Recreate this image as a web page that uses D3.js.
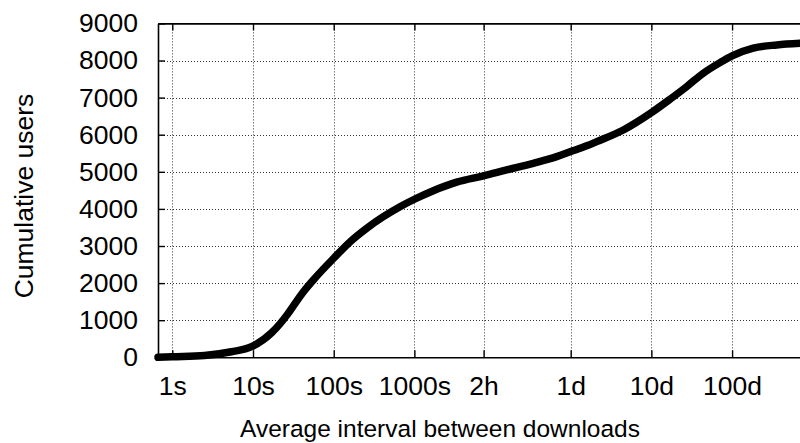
<!DOCTYPE html>
<html>
<head>
<meta charset="utf-8">
<script src="https://cdn.jsdelivr.net/npm/d3@7"></script>
<style>
  html, body { margin: 0; padding: 0; background: #fff; }
  svg { display: block; }
  text { font-family: "Liberation Sans", Arial, Helvetica, sans-serif; fill: #000; }
</style>
</head>
<body>
<svg id="chart" width="800" height="443"></svg>
<script>
// Average interval between downloads (seconds) and cumulative number of users
const intervalSeconds = [0.665, 1, 2.5, 5.4, 9.6, 17, 27, 32, 40, 56, 100, 159, 257, 412, 663,
  1000, 1715, 3342, 7200, 13900, 29750, 58000, 86400, 136500, 181600, 388000, 864000,
  1.47e6, 2.37e6, 3.8e6, 6.12e6, 8.64e6, 1.58e7, 3.08e7, 6.0e7];
const cumulativeUsers = [0, 15, 50, 150, 285, 660, 1170, 1400, 1700, 2085, 2670, 3110, 3480, 3790, 4060,
  4260, 4490, 4720, 4890, 5050, 5230, 5410, 5545, 5700, 5813, 6128, 6595,
  6956, 7297, 7658, 7943, 8124, 8331, 8420, 8465];

// Axis ticks
const xTickValues = [1, 10, 100, 1000, 7200, 86400, 864000, 8640000];
const xTickLabels = ["1s", "10s", "100s", "1000s", "2h", "1d", "10d", "100d"];
const yTickValues = [0, 1000, 2000, 3000, 4000, 5000, 6000, 7000, 8000, 9000];

const svg = d3.select("#chart");
const plotLeft = 158, plotRight = 800, plotTop = 23.4, plotBottom = 357.3;

const x = d3.scaleLog().domain([0.665, 6.0e7]).range([plotLeft, plotRight]);
const y = d3.scaleLinear().domain([0, 9000]).range([plotBottom, plotTop]);

// Dotted grid
const grid = svg.append("g").attr("stroke", "#333").attr("stroke-width", 1)
  .attr("stroke-dasharray", "1,2").attr("fill", "none");
xTickValues.forEach(v => {
  grid.append("line").attr("x1", Math.round(x(v)) + 0.5).attr("x2", Math.round(x(v)) + 0.5)
    .attr("y1", plotTop).attr("y2", plotBottom);
});
yTickValues.slice(1, -1).forEach(v => {
  grid.append("line").attr("x1", plotLeft).attr("x2", plotRight)
    .attr("y1", Math.round(y(v)) + 0.5).attr("y2", Math.round(y(v)) + 0.5);
});

// Axes with inward ticks
const tickFont = 26.5;
const xAxis = d3.axisBottom(x).tickValues(xTickValues)
  .tickFormat((d, i) => xTickLabels[i]).tickSizeInner(-7).tickSizeOuter(0).tickPadding(20);
const gx = svg.append("g").attr("transform", `translate(0,${plotBottom})`).call(xAxis);
const xTop = d3.axisTop(x).tickValues(xTickValues).tickFormat("").tickSizeInner(-7).tickSizeOuter(0);
const gxt = svg.append("g").attr("transform", `translate(0,${plotTop})`).call(xTop);
const yAxis = d3.axisLeft(y).tickValues(yTickValues).tickFormat(d3.format("d"))
  .tickSizeInner(-7).tickSizeOuter(0).tickPadding(20);
const gy = svg.append("g").attr("transform", `translate(${plotLeft},0)`).call(yAxis);

[gx, gxt, gy].forEach(g => {
  g.select(".domain").attr("stroke", "#000").attr("stroke-width", 1.6);
  g.selectAll(".tick line").attr("stroke", "#000").attr("stroke-width", 1.4);
  g.selectAll(".tick text").style("font-size", tickFont + "px")
    .style("font-family", "'Liberation Sans', Arial, sans-serif").attr("fill", "#000");
});
gx.selectAll(".tick text").attr("dy", "0.66em");

// Curve
const line = d3.line()
  .x((d, i) => x(intervalSeconds[i]))
  .y(d => y(d))
  .curve(d3.curveMonotoneX);
svg.append("path").datum(cumulativeUsers)
  .attr("d", line)
  .attr("fill", "none").attr("stroke", "#000").attr("stroke-width", 7.5)
  .attr("stroke-linejoin", "round").attr("stroke-linecap", "round");

// Axis titles
svg.append("text").attr("x", 440).attr("y", 437).attr("text-anchor", "middle")
  .style("font-size", "24.5px").text("Average interval between downloads");
svg.append("text").attr("transform", `translate(33,196) rotate(-90)`)
  .attr("text-anchor", "middle").style("font-size", "26.5px").text("Cumulative users");
</script>
</body>
</html>
